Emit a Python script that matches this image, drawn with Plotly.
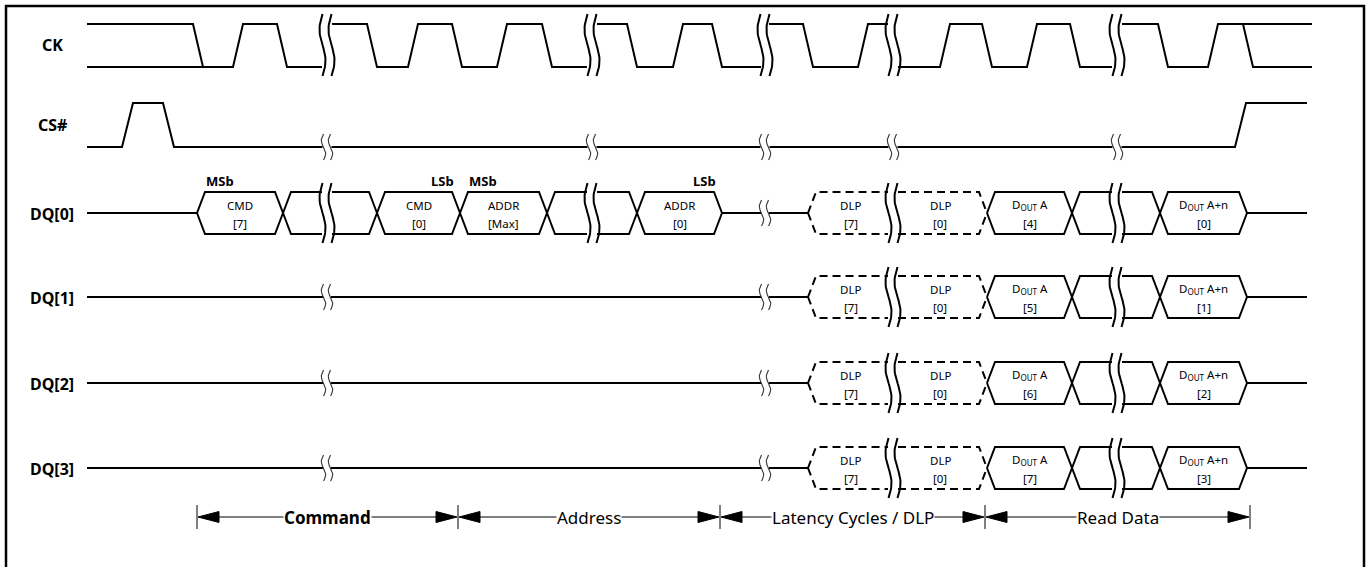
import numpy as np
import plotly.graph_objects as go

# ------------------------------------------------------------------ data
SIGNALS = ["CK", "CS#", "DQ[0]", "DQ[1]", "DQ[2]", "DQ[3]"]
T_START, T_END = 87, 1312          # time axis (diagram units)
BREAKS = [327, 592, 765, 893, 1117]  # time-axis breaks
DQ_BREAKS = [BREAKS, [327, 765, 893, 1117], [327, 765, 893, 1117], [327, 765, 893, 1117]]

# CK: segments between breaks: start, end, starting level, transition times
CK_SEG_START = [87, 332, 597, 769, 898, 1122]
CK_SEG_END = [322, 587, 761, 888, 1112, 1312]
CK_SEG_LEVEL = [1, 1, 1, 1, 0, 1]
CK_EDGES = [[193, 233, 277], [367, 408, 452, 497, 542], [627, 673, 712],
            [803, 858], [940, 982, 1027, 1070], [1158, 1208, 1243]]
CK_EXTRA_RAIL = [(87, 203, 0), (1243, 1312, 1)]   # undefined-level rails
CK_TR = 10

# CS#
CS_START_LEVEL = 0
CS_EDGES = [122, 163, 1235]
CS_END = 1307
CS_TR = 11

# DQ buses
DQ_IDLE_END = [197, 808, 808, 808]
DQ_END = 1307
CMD_ADDR_BOUNDS = [197, 283, 377, 460, 547, 637, 722]
CMD_ADDR_TOP = ["CMD", "", "CMD", "ADDR", "", "ADDR"]
CMD_ADDR_BOT = ["[7]", "", "[0]", "[Max]", "", "[0]"]
BIT_MARKS = [(0, "MSb", "start"), (2, "LSb", "end"), (3, "MSb", "start"), (5, "LSb", "end")]
DLP_BOUNDS = [808, 987]
DLP_TOP = ["DLP", "DLP"]
DLP_BOT = ["[7]", "[0]"]
READ_BOUNDS = [987, 1072, 1160, 1247]
READ_TOP = ["D<sub>OUT</sub> A", "", "D<sub>OUT</sub> A+n"]
READ_A_BIT = ["[4]", "[5]", "[6]", "[7]"]
READ_N_BIT = ["[0]", "[1]", "[2]", "[3]"]

# phases
PHASE_BOUNDS = [197, 458, 720, 985, 1250]
PHASE_LABELS = ["<b>Command</b>", "Address", "Latency Cycles / DLP", "Read Data"]

# ------------------------------------------------------------------ layout constants
W, H = 1369, 567
Y_CK = (24, 67)      # high, low
Y_CS = (103, 147)
Y_DQ = [213, 297, 383, 468]
Y_ROW_LABEL = [45, 125, 214, 298, 384, 469]
BUS_H = 21
SLANT = 8
Y_PHASE = 517
FONT = "Noto Sans"

lines = {"solid": ([], []), "dash": ([], []), "brk": ([], []), "sbrk": ([], []),
         "thin": ([], []), "tri": ([], []), "frame": ([], [])}
ann = []


def seg(xs, ys, kind="solid"):
    lx, ly = lines[kind]
    lx.extend(list(xs) + [None])
    ly.extend(list(ys) + [None])


def break_mark(xc, yc, half_h, dx, amp, kind):
    t = np.linspace(0, 1, 30)
    y = yc - half_h + 2 * half_h * t
    for off in (-dx, dx):
        seg(xc + off - amp * np.sin(2 * np.pi * t), y, kind)


def small_mark(xc, yc):
    break_mark(xc, yc, 13, 3.5, 2.2, "sbrk")


def polyline(xs, ys, brks, gap, mark_fn, kind="solid"):
    cx, cy = [xs[0]], [ys[0]]
    for i in range(1, len(xs)):
        x0, y0, x1, y1 = xs[i - 1], ys[i - 1], xs[i], ys[i]
        if y0 == y1:
            for b in sorted(brks):
                if x0 < b < x1:
                    cx.append(b - gap); cy.append(y0)
                    seg(cx, cy, kind)
                    if mark_fn:
                        mark_fn(b, y0)
                    cx, cy = [b + gap], [y0]
        cx.append(x1); cy.append(y1)
    seg(cx, cy, kind)


def text(x, y, s, size, anchor="center", bg=None):
    ann.append(dict(x=x, y=y, xref="x", yref="y", text=s, showarrow=False,
                    xanchor=anchor, yanchor="middle",
                    font=dict(family=FONT, size=size, color="black"),
                    bgcolor=bg, borderpad=0))


# ---- CK
for xs_, xe_, lev, edges in zip(CK_SEG_START, CK_SEG_END, CK_SEG_LEVEL, CK_EDGES):
    px, py = [xs_], [Y_CK[1 - lev]]
    for e in edges:
        px += [e, e + CK_TR]
        py += [Y_CK[1 - lev], Y_CK[lev]]
        lev = 1 - lev
    px.append(xe_); py.append(Y_CK[1 - lev])
    seg(px, py)
for a, b, lev in CK_EXTRA_RAIL:
    seg([a, b], [Y_CK[1 - lev]] * 2)
for b in BREAKS:
    break_mark(b, 45, 31, 4.5, 3, "brk")

# ---- CS#
lev = CS_START_LEVEL
px, py = [T_START], [Y_CS[1 - lev]]
for e in CS_EDGES:
    px += [e, e + CS_TR]
    py += [Y_CS[1 - lev], Y_CS[lev]]
    lev = 1 - lev
px.append(CS_END); py.append(Y_CS[1 - lev])
polyline(px, py, BREAKS, 4.5, small_mark)


# ---- DQ
def bus_cell(xa, xb, yc, brks, labels, kind):
    top = [(xa, yc), (xa + SLANT, yc - BUS_H), (xb - SLANT, yc - BUS_H), (xb, yc)]
    bot = [(xa, yc), (xa + SLANT, yc + BUS_H), (xb - SLANT, yc + BUS_H), (xb, yc)]
    for path in (top, bot):
        polyline([p[0] for p in path], [p[1] for p in path], brks, 5, None, kind)
    inner = [b for b in brks if xa < b < xb]
    for b in inner:
        break_mark(b, yc, 30, 4.5, 3, "brk")
    edges = [xa] + inner + [xb]
    for k, lab in enumerate(labels):
        if lab and lab[0]:
            xm = (edges[k] + edges[k + 1]) / 2
            text(xm, yc - 8, lab[0], 11.5)
            text(xm, yc + 10, lab[1], 11.5)


for r, yc in enumerate(Y_DQ):
    brks = DQ_BREAKS[r]
    polyline([T_START, DQ_IDLE_END[r]], [yc, yc], brks, 4, small_mark)
    if r == 0:
        for i in range(len(CMD_ADDR_TOP)):
            bus_cell(CMD_ADDR_BOUNDS[i], CMD_ADDR_BOUNDS[i + 1], yc, brks,
                     [(CMD_ADDR_TOP[i], CMD_ADDR_BOT[i])], "solid")
        polyline([CMD_ADDR_BOUNDS[-1], DLP_BOUNDS[0]], [yc, yc], brks, 4, small_mark)
        for ci, lab, where in BIT_MARKS:
            if where == "start":
                text(CMD_ADDR_BOUNDS[ci] + 8, 181, "<b>%s</b>" % lab, 13, "left")
            else:
                text(CMD_ADDR_BOUNDS[ci + 1] - 5, 181, "<b>%s</b>" % lab, 13, "right")
    bus_cell(DLP_BOUNDS[0], DLP_BOUNDS[1], yc, brks,
             list(zip(DLP_TOP, DLP_BOT)), "dash")
    bots = [READ_A_BIT[r], "", READ_N_BIT[r]]
    for i in range(len(READ_TOP)):
        bus_cell(READ_BOUNDS[i], READ_BOUNDS[i + 1], yc, brks, [(READ_TOP[i], bots[i])], "solid")
    seg([READ_BOUNDS[-1], DQ_END], [yc, yc])

# ---- row labels
for name, y in zip(SIGNALS, Y_ROW_LABEL):
    text(52, y, "<b>%s</b>" % name, 16)

# ---- phase arrows
AH_L, AH_W = 21, 5.5
for i, lab in enumerate(PHASE_LABELS):
    a, b = PHASE_BOUNDS[i], PHASE_BOUNDS[i + 1]
    seg([a + 1, a + 1 + AH_L, a + 1 + AH_L, a + 1], [Y_PHASE, Y_PHASE - AH_W, Y_PHASE + AH_W, Y_PHASE], "tri")
    seg([b - 1, b - 1 - AH_L, b - 1 - AH_L, b - 1], [Y_PHASE, Y_PHASE - AH_W, Y_PHASE + AH_W, Y_PHASE], "tri")
    seg([a + AH_L, b - AH_L], [Y_PHASE, Y_PHASE], "thin")
    text((a + b) / 2, Y_PHASE, lab, 17, bg="white")
for b in PHASE_BOUNDS:
    seg([b, b], [Y_PHASE - 12, Y_PHASE + 12], "thin")

# ---- frame
seg([6, 6, 1364, 1364], [600, 6, 6, 600], "frame")

# ------------------------------------------------------------------ figure
fig = go.Figure()
style = {
    "solid": dict(color="black", width=2),
    "dash": dict(color="black", width=2, dash="8px,5px"),
    "brk": dict(color="black", width=2),
    "sbrk": dict(color="#333333", width=1.1),
    "thin": dict(color="black", width=1),
    "frame": dict(color="black", width=2.5),
}
for k, st in style.items():
    x, y = lines[k]
    fig.add_trace(go.Scatter(x=x, y=y, mode="lines", line=st, hoverinfo="skip", showlegend=False))
tx, ty = lines["tri"]
fig.add_trace(go.Scatter(x=tx, y=ty, mode="lines", fill="toself", fillcolor="black",
                         line=dict(color="black", width=1), hoverinfo="skip", showlegend=False))

fig.update_layout(
    width=W, height=H, margin=dict(l=0, r=0, t=0, b=0),
    paper_bgcolor="white", plot_bgcolor="white",
    xaxis=dict(range=[0, W], visible=False, fixedrange=True),
    yaxis=dict(range=[H, 0], visible=False, fixedrange=True),
    annotations=ann, showlegend=False,
)
fig.write_html("out.html", post_script="document.body.style.margin='0';",
               config={"displayModeBar": False})
